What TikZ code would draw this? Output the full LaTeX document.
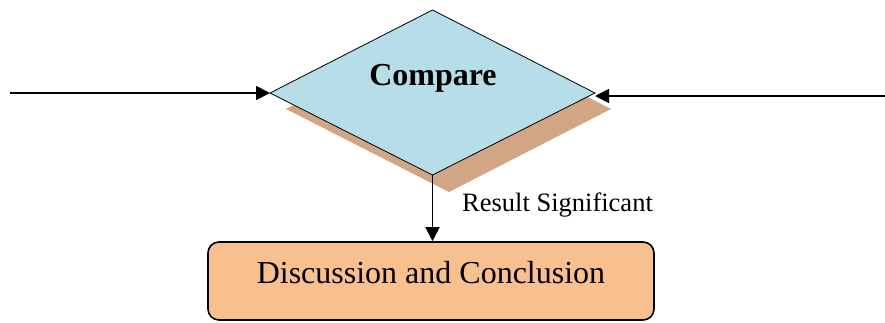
\documentclass[tikz,border=0pt]{standalone}
\usepackage{fontspec}
\setmainfont{Liberation Serif}
\usetikzlibrary{arrows.meta}
\definecolor{dblue}{HTML}{B7DDE8}
\definecolor{borange}{HTML}{F9C08F}
\definecolor{shadowbrown}{HTML}{D2A585}
\tikzset{
  conn/.style={line width=1.8pt, -{Triangle[length=14pt,width=14pt]}},
  lbl/.style={font=\fontsize{26.5}{30}\selectfont, anchor=west, inner sep=0pt},
}
\begin{document}
\begin{tikzpicture}[x=1pt,y=-1pt]
\useasboundingbox (0,0) rectangle (885,323);
% shadow of diamond
\fill[shadowbrown] (286,109) -- (449,26) -- (611,109) -- (449,192) -- cycle;
% diamond
\draw[fill=dblue, line width=0.8pt] (270,93) -- (432.5,10) -- (595,93) -- (432.5,175) -- cycle;
\coordinate (dl) at (270,93);
\coordinate (dr) at (595,96);
\coordinate (db) at (432.5,175);
\node[font=\bfseries\fontsize{32}{36}\selectfont, inner sep=0pt] (cmp) at (433,78) {Compare};
% box
\node[draw, line width=1.6pt, fill=borange, rounded corners=11pt, minimum width=446pt, minimum height=78pt, inner sep=0pt] (box) at (431,281) {};
\node[font=\fontsize{32}{36}\selectfont, inner sep=0pt, anchor=base] (boxtxt) at (431,283) {Discussion and Conclusion};
% connectors
\coordinate (ls) at (10,93);
\coordinate (rs) at (885,96);
\draw[conn] (ls) -- (dl);
\draw[conn] (rs) -- (dr);
\draw[conn] (db) -- (box.north -| db);
\node[lbl] (res) at (462,205) {Result Significant};
\end{tikzpicture}
\end{document}
